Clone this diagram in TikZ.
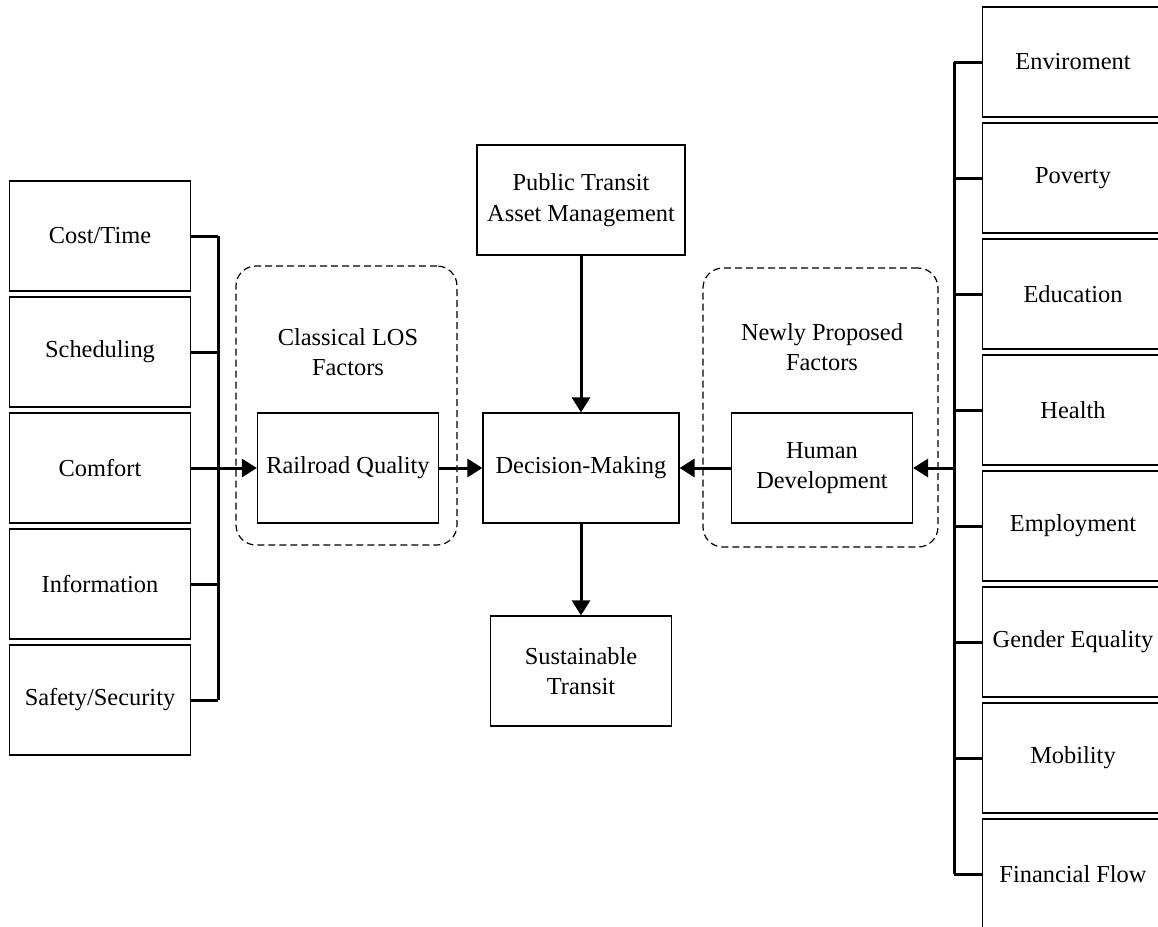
\documentclass[tikz,border=0pt]{standalone}
\usepackage{fontspec}
\setmainfont{Liberation Serif}
\usepackage{tikz}
\usetikzlibrary{arrows.meta,positioning}

\tikzset{
  box/.style={draw, line width=0.6pt, align=center, inner sep=2pt,
    minimum width=90.5pt, minimum height=55pt,
    font=\fontsize{12.2}{15.3}\selectfont},
  group/.style={draw, dash pattern=on 3.5pt off 2pt, line width=0.6pt,
    rounded corners=10pt},
  lbl/.style={align=center, font=\fontsize{12.2}{15.3}\selectfont},
  wire/.style={line width=1.5pt},
}

\begin{document}
\begin{tikzpicture}[x=0.5pt,y=-0.5pt,>={Triangle[length=7.5pt,width=9pt]},node distance=2.4pt]
\clip (0,0) rectangle (1158,927);

% left column
\node	[box]	(cost)	at (100,236)			{Cost/Time};
\node	[box]	(sched)	[below=of cost]		{Scheduling};
\node	[box]	(comf)	[below=of sched]	{Comfort};
\node	[box]	(info)	[below=of comf]		{Information};
\node	[box]	(safe)	[below=of info]		{Safety/Security};
\coordinate	(lbus)	at (218,468);

% groups
\node	[group, minimum width=110.5pt, minimum height=139.5pt]	(los)	at (346.5,405.5)	{};
\node	[group, minimum width=117.5pt, minimum height=139.5pt]	(new)	at (820.5,407.5)	{};
\node	[lbl]	(loslbl)	at (348,352)	{Classical LOS\\Factors};
\node	[lbl]	(newlbl)	at (822,347)	{Newly Proposed\\Factors};

% middle
\node	[box]	(rail)	at (348,468)	{Railroad Quality};
\node	[box, minimum width=98pt]	(dec)	at (581,468)	{Decision-Making};
\node	[box, minimum width=104pt]	(pub)	at (581,200)	{Public Transit\\Asset Management};
\node	[box]	(sust)	at (581,671)	{Sustainable\\Transit};
\node	[box]	(human)	at (822,468)	{Human\\Development};

% right column
\node	[box]	(env)	at (1073,62)		{Enviroment};
\node	[box]	(pov)	[below=of env]		{Poverty};
\node	[box]	(edu)	[below=of pov]		{Education};
\node	[box]	(heal)	[below=of edu]		{Health};
\node	[box]	(emp)	[below=of heal]		{Employment};
\node	[box]	(gend)	[below=of emp]		{Gender Equality};
\node	[box]	(mob)	[below=of gend]		{Mobility};
\node	[box]	(fin)	[below=of mob]		{Financial Flow};
\coordinate	(rbus)	at (954,468);

% connectors
\draw	[wire]	(cost.east -| lbus) -- (safe.east -| lbus);
\foreach \b in {cost,sched,comf,info,safe}
	\draw	[wire]	(\b.east) -- (\b.east -| lbus);
\draw	[wire]	(env.west -| rbus) -- (fin.west -| rbus);
\foreach \b in {env,pov,edu,heal,emp,gend,mob,fin}
	\draw	[wire]	(\b.west) -- (\b.west -| rbus);

\draw	[wire,->]	(lbus) -- (rail.west);
\draw	[wire,->]	(rail.east) -- (dec.west);
\draw	[wire,->]	(rbus) -- (human.east);
\draw	[wire,->]	(human.west) -- (dec.east);
\draw	[wire,->]	(pub.south) -- (dec.north);
\draw	[wire,->]	(dec.south) -- (sust.north);
\end{tikzpicture}
\end{document}
